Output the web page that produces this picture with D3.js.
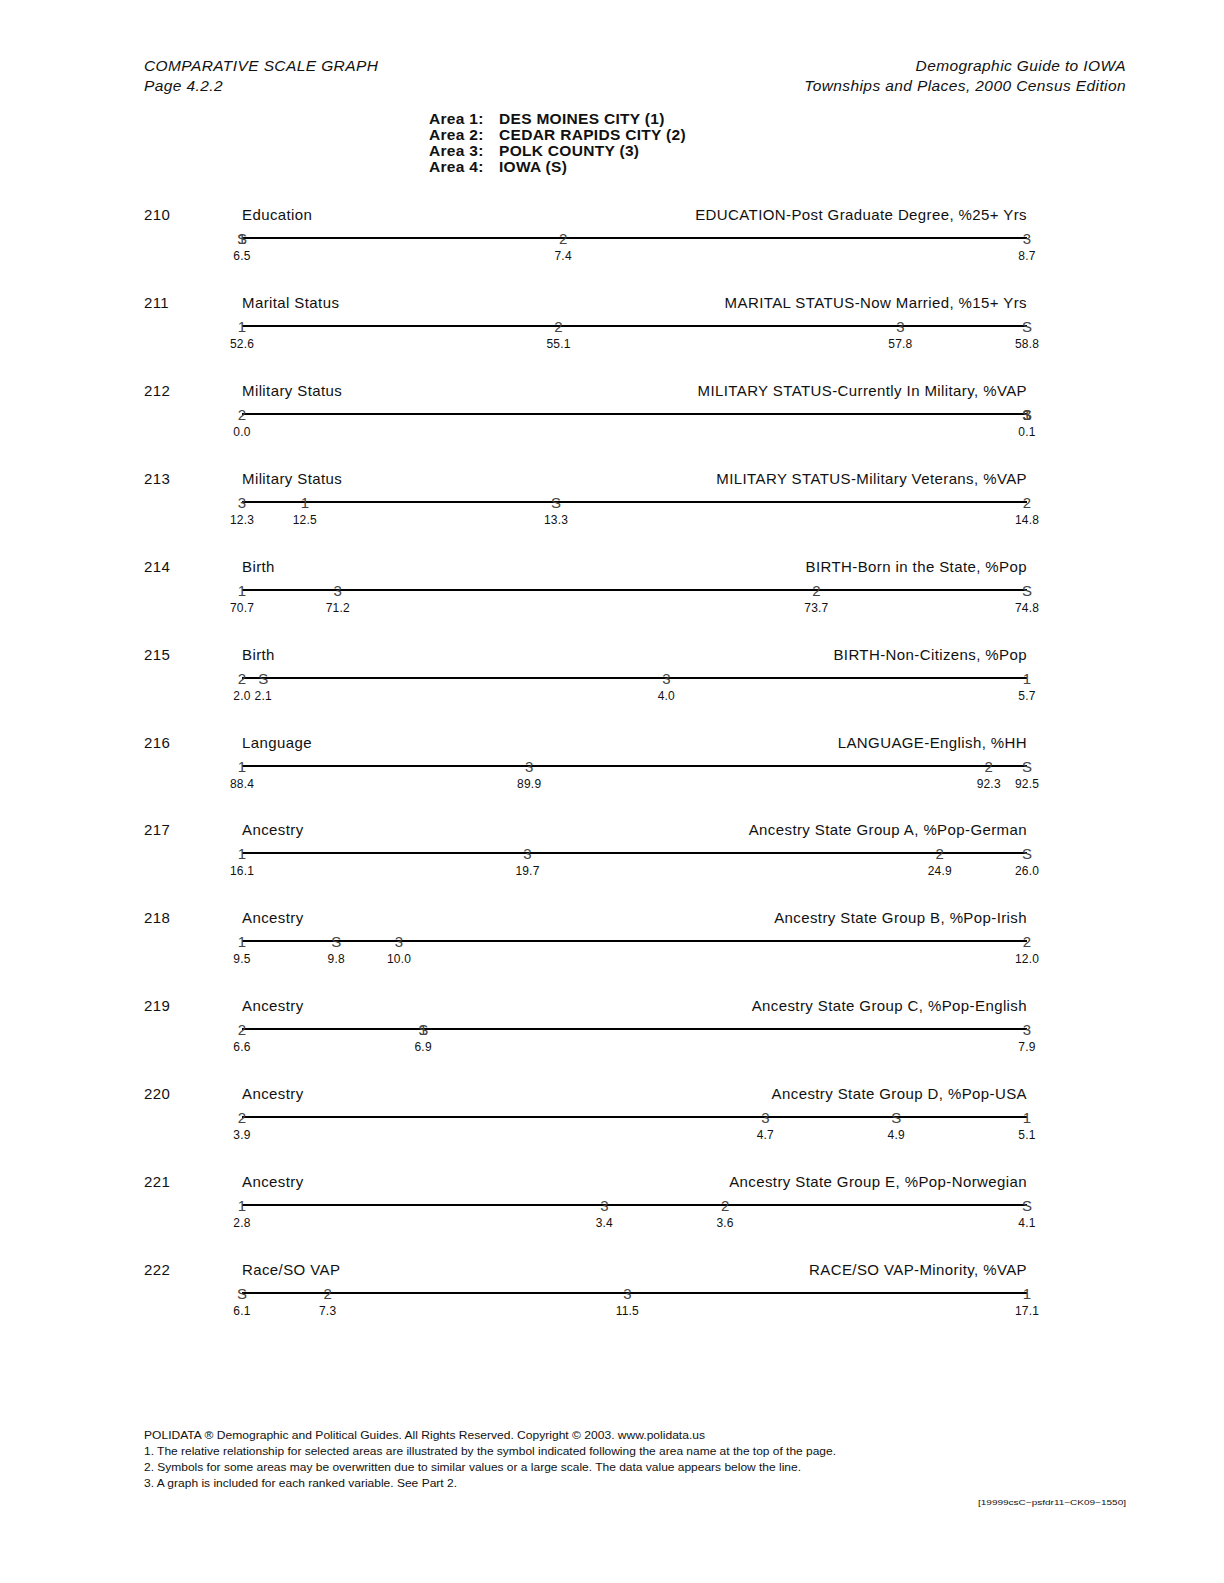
<!DOCTYPE html>
<html>
<head>
<meta charset="utf-8">
<script src="https://cdn.jsdelivr.net/npm/d3@7"></script>
<style>
  html, body { margin: 0; padding: 0; background: #fff; }
  svg text { font-family: "Liberation Sans", Arial, Helvetica, sans-serif; fill: #111; }
</style>
</head>
<body>
<div id="chart"></div>
<script>
// page header / legend text
const headerLeft = ["COMPARATIVE SCALE GRAPH", "Page 4.2.2"];
const headerRight = ["Demographic Guide to IOWA", "Townships and Places, 2000 Census Edition"];
const areaLabels = ["Area 1:", "Area 2:", "Area 3:", "Area 4:"];
const areaNames = ["DES MOINES CITY (1)", "CEDAR RAPIDS CITY (2)", "POLK COUNTY (3)", "IOWA (S)"];
const areaSymbols = ["1", "2", "3", "S"];

// one row per ranked variable
const rowIds = [210, 211, 212, 213, 214, 215, 216, 217, 218, 219, 220, 221, 222];
const sections = ["Education", "Marital Status", "Military Status", "Military Status", "Birth", "Birth",
  "Language", "Ancestry", "Ancestry", "Ancestry", "Ancestry", "Ancestry", "Race/SO VAP"];
const variables = [
  "EDUCATION-Post Graduate Degree, %25+ Yrs",
  "MARITAL STATUS-Now Married, %15+ Yrs",
  "MILITARY STATUS-Currently In Military, %VAP",
  "MILITARY STATUS-Military Veterans, %VAP",
  "BIRTH-Born in the State, %Pop",
  "BIRTH-Non-Citizens, %Pop",
  "LANGUAGE-English, %HH",
  "Ancestry State Group A, %Pop-German",
  "Ancestry State Group B, %Pop-Irish",
  "Ancestry State Group C, %Pop-English",
  "Ancestry State Group D, %Pop-USA",
  "Ancestry State Group E, %Pop-Norwegian",
  "RACE/SO VAP-Minority, %VAP"
];

// values for each area (same order as rowIds)
const area1 = [6.5, 52.6, 0.1, 12.5, 70.7, 5.7, 88.4, 16.1, 9.5, 6.9, 5.1, 2.8, 17.1];
const area2 = [7.4, 55.1, 0.0, 14.8, 73.7, 2.0, 92.3, 24.9, 12.0, 6.6, 3.9, 3.6, 7.3];
const area3 = [8.7, 57.8, 0.1, 12.3, 71.2, 4.0, 89.9, 19.7, 10.0, 7.9, 4.7, 3.4, 11.5];
const areaS = [6.5, 58.8, 0.1, 13.3, 74.8, 2.1, 92.5, 26.0, 9.8, 6.9, 4.9, 4.1, 6.1];

const footerLines = [
  "POLIDATA \u00AE Demographic and Political Guides. All Rights Reserved. Copyright \u00A9 2003. www.polidata.us",
  "1. The relative relationship for selected areas are illustrated by the symbol indicated following the area name at the top of the page.",
  "2. Symbols for some areas may be overwritten due to similar values or a large scale. The data value appears below the line.",
  "3. A graph is included for each ranked variable. See Part 2."
];
const footerCode = "[19999csC~psfdr11~CK09~1550]";

const W = 1224, H = 1583;
const leftX = 144, rightX = 1126;
const lineX0 = 242, lineX1 = 1027;
const firstLineY = 238.3, rowStep = 87.87;

const svg = d3.select("#chart").append("svg")
  .attr("width", W)
  .attr("height", H);

// header
const hdr = svg.append("g")
  .style("font-style", "italic")
  .style("font-size", "15.5px")
  .style("letter-spacing", "0.4px");
headerLeft.forEach((t, i) => {
  hdr.append("text").attr("x", leftX).attr("y", 71 + i * 20).text(t);
});
headerRight.forEach((t, i) => {
  hdr.append("text").attr("x", rightX).attr("y", 71 + i * 20)
    .attr("text-anchor", "end").text(t);
});

// area legend
const leg = svg.append("g")
  .style("font-weight", "bold")
  .style("font-size", "15.5px")
  .style("letter-spacing", "0.3px");
areaLabels.forEach((t, i) => {
  const y = 123.5 + i * 16.2;
  leg.append("text").attr("x", 429).attr("y", y).text(t);
  leg.append("text").attr("x", 499).attr("y", y).text(areaNames[i]);
});

const series = [area1, area2, area3, areaS];

rowIds.forEach((id, i) => {
  const y = Math.round(firstLineY + i * rowStep);
  const g = svg.append("g").attr("class", "row")
    .style("letter-spacing", "0.4px");
  const vals = series.map(s => s[i]);

  const x = d3.scaleLinear()
    .domain(d3.extent(vals))
    .range([lineX0, lineX1]);

  g.append("text").attr("x", leftX).attr("y", y - 18)
    .style("font-size", "15px").text(id);
  g.append("text").attr("x", lineX0).attr("y", y - 18)
    .style("font-size", "15px").text(sections[i]);
  g.append("text").attr("x", lineX1).attr("y", y - 18)
    .attr("text-anchor", "end").style("font-size", "15px").text(variables[i]);

  g.append("line")
    .attr("x1", x.range()[0]).attr("x2", x.range()[1])
    .attr("y1", y).attr("y2", y)
    .attr("stroke", "#000").attr("stroke-width", 2);

  // symbols for each area, drawn over the line
  g.selectAll("text.sym")
    .data(vals.map((v, k) => ({ v, s: areaSymbols[k] })))
    .join("text")
    .attr("class", "sym")
    .attr("x", d => x(d.v))
    .attr("y", y + 5.5)
    .attr("text-anchor", "middle")
    .style("letter-spacing", "0")
    .style("font-size", "15px")
    .style("fill", "#444")
    .text(d => d.s);

  // value labels, one for each distinct value
  const uniq = Array.from(new Set(vals.map(v => v.toFixed(1)))).map(Number);
  g.selectAll("text.val")
    .data(uniq)
    .join("text")
    .attr("class", "val")
    .attr("x", d => x(d))
    .attr("y", y + 22)
    .attr("text-anchor", "middle")
    .style("letter-spacing", "0.2px")
    .style("font-size", "12px")
    .text(d => d.toFixed(1));
});

// footer
const footerWidths = [561, 692, 657, 313];
footerLines.forEach((t, i) => {
  svg.append("text")
    .attr("x", leftX).attr("y", 1439 + i * 16)
    .attr("textLength", footerWidths[i])
    .attr("lengthAdjust", "spacingAndGlyphs")
    .style("font-size", "11.5px")
    .text(t);
});
svg.append("text")
  .attr("x", rightX).attr("y", 1505)
  .attr("text-anchor", "end")
  .attr("textLength", 148)
  .attr("lengthAdjust", "spacingAndGlyphs")
  .style("font-size", "8px")
  .text(footerCode);
</script>
</body>
</html>
